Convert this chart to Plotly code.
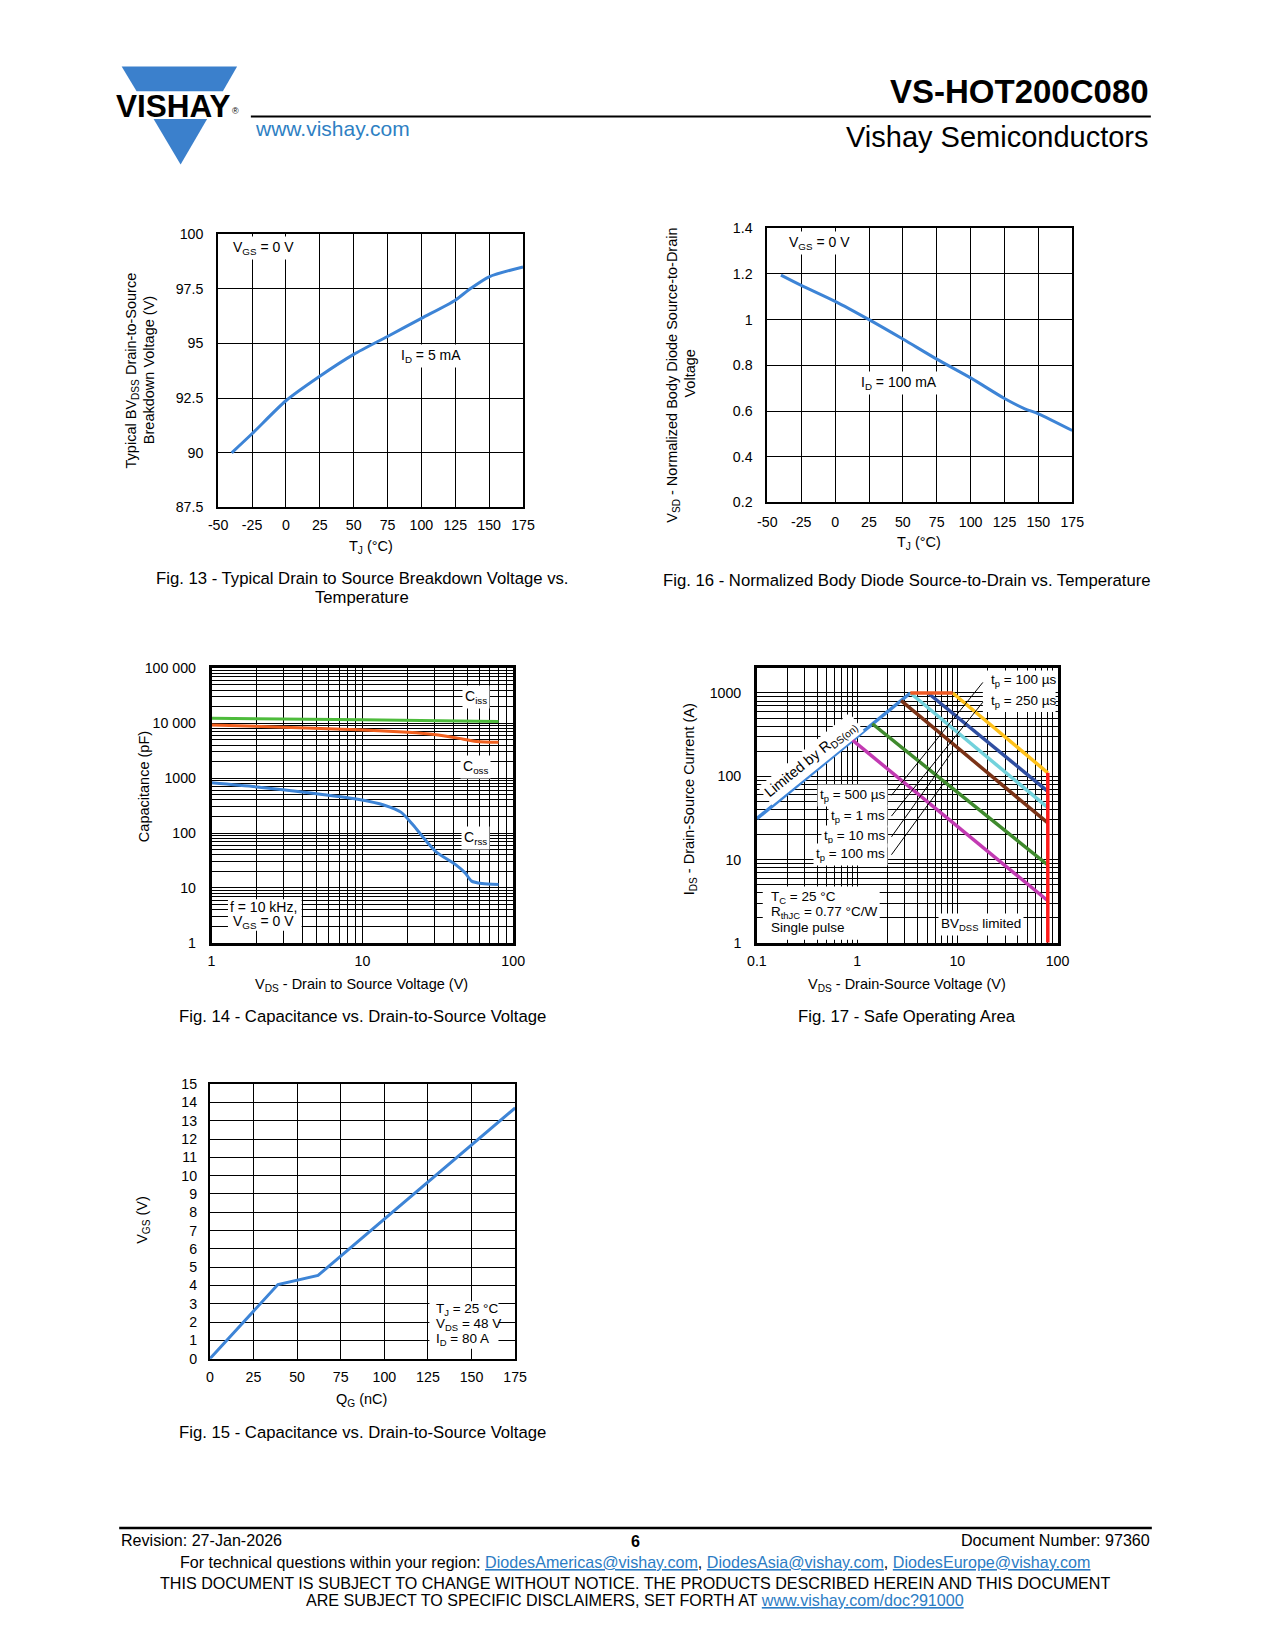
import plotly.graph_objects as go

W, H = 1275, 1650          # page size
OX, OY = 8, 8              # default page margin of the browser
FW, FH = W - 2 * OX, H - 2 * OY
FONT = "Liberation Sans, Arial, Helvetica, sans-serif"
BLUE = "#3d84d6"

# ---------------- Fig. 13 : breakdown voltage vs temperature ----------------
bv_temp = [-40, -25, 0, 25, 50, 75, 100, 125, 136, 150, 175]
bv_volt = [90.0, 90.87, 92.38, 93.5, 94.5, 95.32, 96.15, 96.98, 97.5, 98.05, 98.5]
temp_ticks = [-50, -25, 0, 25, 50, 75, 100, 125, 150, 175]
temp_ticktext = ["-50", "-25", "0", "25", "50", "75", "100", "125", "150", "175"]
bv_yticks = [87.5, 90, 92.5, 95, 97.5, 100]
bv_yticktext = ["87.5", "90", "92.5", "95", "97.5", "100"]

# ---------------- Fig. 16 : normalized body diode VSD vs temperature ----------------
vsd_temp = [-40, -25, 0, 25, 50, 75, 100, 125, 140, 150, 175]
vsd_norm = [1.195, 1.15, 1.08, 1.0, 0.915, 0.827, 0.745, 0.655, 0.61, 0.588, 0.515]
vsd_yticks = [0.2, 0.4, 0.6, 0.8, 1.0, 1.2, 1.4]
vsd_yticktext = ["0.2", "0.4", "0.6", "0.8", "1", "1.2", "1.4"]

# ---------------- Fig. 14 : capacitance vs VDS ----------------
ciss_vds = [1, 10, 80]
ciss_pf = [12300, 11500, 10700]
coss_vds = [1, 9.3, 20, 30, 42, 57, 80]
coss_pf = [9300, 7600, 6800, 6200, 5400, 4650, 4500]
crss_vds = [1, 2, 4.4, 9.3, 14, 18, 21.7, 25.6, 30.7, 41.5, 48, 53, 62, 80]
crss_pf = [820, 690, 540, 410, 320, 240, 140, 80, 46, 26.5, 18.8, 13.3, 12, 11.5]
cap_xticks = [1, 10, 100]
cap_yticks = [1, 10, 100, 1000, 10000, 100000]
cap_yticktext = ["1", "10", "100", "1000", "10 000", "100 000"]

# ---------------- Fig. 15 : gate charge ----------------
qg_nc = [0, 39, 62, 175]
vgs_v = [0, 4.05, 4.55, 13.7]
qg_xticks = [0, 25, 50, 75, 100, 125, 150, 175]
qg_yticks = list(range(0, 16))

# ---------------- Fig. 17 : safe operating area ----------------
rds_vds = [0.1, 3.4]
rds_ids = [31, 1000]
flat_vds = [3.4, 9.0]
flat_ids = [1000, 1000]
tp100us_vds = [9.0, 80]
tp100us_ids = [1000, 110]
tp250us_vds = [5.1, 80]
tp250us_ids = [1000, 66]
tp500us_vds = [3.4, 80]
tp500us_ids = [1000, 42]
tp1ms_vds = [2.75, 80]
tp1ms_ids = [810, 27.5]
tp10ms_vds = [1.42, 80]
tp10ms_ids = [427, 8.6]
tp100ms_vds = [0.90, 80]
tp100ms_ids = [272, 3.2]
bvdss_vds = [80, 80]
bvdss_ids = [1, 110]
soa_xticks = [0.1, 1, 10, 100]
soa_xticktext = ["0.1", "1", "10", "100"]
soa_yticks = [1, 10, 100, 1000]


def px(x):
    return (x - OX) / FW


def py(y):
    return 1 - (y - OY) / FH


def dx(a, b):
    return [px(a), px(b)]


def dy(top, bottom):
    return [py(bottom), py(top)]


fig = go.Figure()


def line(x, y, ax, color, width=3, spline=False):
    fig.add_trace(go.Scatter(
        x=x, y=y, xaxis=ax[0], yaxis=ax[1], mode="lines",
        line=dict(color=color, width=width, shape="spline" if spline else "linear", smoothing=0.7),
        showlegend=False, hoverinfo="skip"))


line(bv_temp, bv_volt, ("x", "y"), BLUE, 3, True)
line(vsd_temp, vsd_norm, ("x2", "y2"), BLUE, 3, True)
line(ciss_vds, ciss_pf, ("x3", "y3"), "#4dbb3b", 3, True)
line(coss_vds, coss_pf, ("x3", "y3"), "#f0601f", 3, True)
line(crss_vds, crss_pf, ("x3", "y3"), BLUE, 3, True)
line(qg_nc, vgs_v, ("x5", "y5"), BLUE, 3)

soa = ("x4", "y4")
line(rds_vds, rds_ids, soa, "#3f86d9", 3.5)
line(tp100ms_vds, tp100ms_ids, soa, "#c23ab2", 3.5)
line(tp10ms_vds, tp10ms_ids, soa, "#3f8a2d", 3.5)
line(tp1ms_vds, tp1ms_ids, soa, "#7a3216", 3.5)
line(tp500us_vds, tp500us_ids, soa, "#72d2dc", 3.5)
line(tp250us_vds, tp250us_ids, soa, "#2f4ea1", 3.5)
line(tp100us_vds, tp100us_ids, soa, "#ffc11a", 3.5)
line(flat_vds, flat_ids, soa, "#ee5a24", 3.5)
line(bvdss_vds, bvdss_ids, soa, "#ff1a1a", 3.5)

tickfont = dict(family=FONT, size=14.2, color="black")


def axis(lw=2, **kw):
    d = dict(showline=True, mirror=True, linecolor="black", linewidth=lw,
             showgrid=True, gridcolor="black", gridwidth=1, zeroline=False,
             ticks="", tickfont=tickfont, fixedrange=True, tickmode="array")
    d.update(kw)
    return d


def decade_minor(lo, hi):
    return [m * 10.0 ** k for k in range(lo, hi) for m in range(2, 10)]


def minor(lo, hi):
    return dict(tickmode="array", tickvals=decade_minor(lo, hi), showgrid=True,
                gridcolor="black", gridwidth=1, ticks="")


fig.update_layout(
    width=FW, height=FH, autosize=False,
    margin=dict(l=0, r=0, t=0, b=0),
    paper_bgcolor="white", plot_bgcolor="white",
    showlegend=False,
    xaxis=axis(domain=dx(211.7, 522), anchor="y", range=[-50, 175], tickvals=temp_ticks,
               ticktext=temp_ticktext, ticklabelstandoff=4),
    yaxis=axis(domain=dy(228.3, 504.3), anchor="x", range=[87.5, 100], tickvals=bv_yticks,
               ticktext=bv_yticktext, ticklabelstandoff=10),
    xaxis2=axis(domain=dx(770.7, 1081), anchor="y2", range=[-50, 175], tickvals=temp_ticks,
                ticktext=temp_ticktext, ticklabelstandoff=5),
    yaxis2=axis(domain=dy(222.3, 499.3), anchor="x2", range=[0.2, 1.4], tickvals=vsd_yticks,
                ticktext=vsd_yticktext, ticklabelstandoff=10),
    xaxis3=axis(lw=2.5, domain=dx(205, 512), anchor="y3", type="log", range=[0, 2],
                tickvals=cap_xticks, ticktext=["1", "10", "100"], ticklabelstandoff=3,
                minor=minor(0, 2)),
    yaxis3=axis(lw=2.5, domain=dy(666.7, 944), anchor="x3", type="log", range=[0, 5],
                tickvals=cap_yticks, ticktext=cap_yticktext, ticklabelstandoff=10,
                minor=minor(0, 5)),
    xaxis4=axis(lw=2.5, domain=dx(760, 1066), anchor="y4", type="log", range=[-1, 2],
                tickvals=soa_xticks, ticktext=soa_xticktext, ticklabelstandoff=3,
                minor=minor(-1, 2)),
    yaxis4=axis(lw=2.5, domain=dy(666.7, 944), anchor="x4", type="log", range=[0, 3.297],
                tickvals=soa_yticks, ticktext=["1", "10", "100", "1000"], ticklabelstandoff=10,
                minor=minor(0, 4)),
    xaxis5=axis(domain=dx(203.3, 514), anchor="y5", range=[0, 175], tickvals=qg_xticks,
                ticklabelstandoff=4),
    yaxis5=axis(domain=dy(1086.7, 1364), anchor="x5", range=[0, 15], tickvals=qg_yticks,
                ticklabelstandoff=8),
)

ann = []


def A(text, x, y, size=14, xa="center", ya="middle", angle=0, bg=None, color="black"):
    d = dict(text=text, x=px(x), y=py(y), xref="paper", yref="paper", showarrow=False,
             xanchor=xa, yanchor=ya, textangle=angle,
             font=dict(family=FONT, size=size, color=color))
    if bg:
        d.update(bgcolor=bg, borderpad=2)
    ann.append(d)


shapes = []


def R(x0, y0, x1, y1, fill="white"):
    shapes.append(dict(type="rect", xref="paper", yref="paper", x0=px(x0), x1=px(x1),
                       y0=py(y1), y1=py(y0), fillcolor=fill, line=dict(width=0), layer="above"))


def L(x0, y0, x1, y1, w=1, color="black"):
    shapes.append(dict(type="line", xref="paper", yref="paper", x0=px(x0), x1=px(x1),
                       y0=py(y0), y1=py(y1), line=dict(color=color, width=w), layer="above"))


def poly(pts, color):
    path = "M " + " L ".join("{},{}".format(px(a), py(b)) for a, b in pts) + " Z"
    shapes.append(dict(type="path", xref="paper", yref="paper", path=path,
                       fillcolor=color, line=dict(width=0)))


# ---------------- header ----------------
LOGO = "#3b80cc"
poly([(113.5, 59), (231, 59), (216.5, 84), (128.7, 84)], LOGO)
poly([(146, 112), (200.5, 112), (173.5, 158)], LOGO)
A("<b>VISHAY</b>", 166, 98.5, size=31.5)
A("®", 229, 104, size=9)
L(245, 109.5, 1161, 109.5, w=2)
A("<b>VS-HOT200C080</b>", 1161, 84, size=33, xa="right")
A("Vishay Semiconductors", 1161, 130, size=29, xa="right")
A("www.vishay.com", 247, 122, size=21, xa="left", color="#2e7fc3")

# ---------------- Fig. 13 annotations ----------------
A("V<sub>GS</sub> = 0 V", 224, 242, xa="left", bg="white")
A("I<sub>D</sub> = 5 mA", 395, 351, xa="left", bg="white")
A("Typical BV<sub>DSS</sub> Drain-to-Source", 125, 366, size=14.5, angle=-90)
A("Breakdown Voltage (V)", 142, 366, size=14.5, angle=-90)
A("T<sub>J</sub> (°C)", 367, 544, size=14.5)
A("Fig. 13 - Typical Drain to Source Breakdown Voltage vs.", 358.5, 576, size=16.7)
A("Temperature", 358.5, 595, size=16.7)

# ---------------- Fig. 16 annotations ----------------
A("V<sub>GS</sub> = 0 V", 790, 237.5, xa="left", bg="white")
A("I<sub>D</sub> = 100 mA", 863, 379, xa="left", bg="white")
A("V<sub>SD</sub> - Normalized Body Diode Source-to-Drain", 675, 371, size=14.5, angle=-90)
A("Voltage", 692, 369, size=14.5, angle=-90)
A("T<sub>J</sub> (°C)", 925, 540, size=14.5)
A("Fig. 16 - Normalized Body Diode Source-to-Drain vs. Temperature", 913, 578, size=16.7)

# ---------------- Fig. 14 annotations ----------------
A("C<sub>iss</sub>", 474, 696, bg="white")
A("C<sub>oss</sub>", 474, 766, bg="white")
A("C<sub>rss</sub>", 474, 838, bg="white")
R(221.7, 900, 296.7, 931.7)
A("f = 10 kHz,", 258, 908)
A("V<sub>GS</sub> = 0 V", 258, 923)
A("Capacitance (pF)", 137, 786, size=14.5, angle=-90)
A("V<sub>DS</sub> - Drain to Source Voltage (V)", 358, 987, size=14.5)
A("Fig. 14 - Capacitance vs. Drain-to-Source Voltage", 358.5, 1018, size=16.7)

# ---------------- Fig. 17 annotations ----------------
R(990, 669, 1064, 711)
A("t<sub>p</sub> = 100 µs", 996, 679, xa="left", size=13.5)
A("t<sub>p</sub> = 250 µs", 996, 700, xa="left", size=13.5)
A("t<sub>p</sub> = 500 µs", 893, 795, xa="right", size=13.5, bg="white")
A("t<sub>p</sub> = 1 ms", 893, 816, xa="right", size=13.5, bg="white")
A("t<sub>p</sub> = 10 ms", 893, 836.5, xa="right", size=13.5, bg="white")
A("t<sub>p</sub> = 100 ms", 893, 854.5, xa="right", size=13.5, bg="white")
L(897, 795, 990, 681)
L(897, 816, 990, 701)
L(897, 837, 958, 752)
L(897, 855, 950, 783)
A("Limited by R<sub>DS(on)</sub>", 815, 758, size=14.5, angle=-39, bg="white")
R(766, 887, 885, 941)
A("T<sub>C</sub> = 25 °C", 772.5, 898.6, xa="left", size=13.5)
A("R<sub>thJC</sub> = 0.77 °C/W", 772.5, 913.6, xa="left", size=13.5)
A("Single pulse", 772.5, 929, xa="left", size=13.5)
A("BV<sub>DSS</sub> limited", 988, 925, size=13.5, bg="white")
A("I<sub>DS</sub> - Drain-Source Current (A)", 692, 799, size=14.5, angle=-90)
A("V<sub>DS</sub> - Drain-Source Voltage (V)", 913, 987, size=14.5)
A("Fig. 17 - Safe Operating Area", 913, 1018, size=16.7)

# ---------------- Fig. 15 annotations ----------------
R(426.7, 1306, 497, 1354)
A("T<sub>J</sub> = 25 °C", 431, 1314, xa="left", size=13.5)
A("V<sub>DS</sub> = 48 V", 431, 1329.5, xa="left", size=13.5)
A("I<sub>D</sub> = 80 A", 431, 1345, xa="left", size=13.5)
A("V<sub>GS</sub> (V)", 135, 1224, size=14.5, angle=-90)
A("Q<sub>G</sub> (nC)", 358, 1406, size=14.5)
A("Fig. 15 - Capacitance vs. Drain-to-Source Voltage", 358.5, 1439, size=16.7)

# ---------------- footer ----------------
LINK = "#2b7cc4"
FS = 16.1
L(111, 1535, 1162, 1535, w=2.5)
A("Revision: 27-Jan-2026", 111, 1547, size=FS, xa="left")
A("<b>6</b>", 636, 1548, size=FS)
A("Document Number: 97360", 1162, 1547, size=FS, xa="right")


def link(t):
    return "<span style='color:{};text-decoration:underline'>{}</span>".format(LINK, t)


A("For technical questions within your region: " + link("DiodesAmericas@vishay.com") + ", "
  + link("DiodesAsia@vishay.com") + ", " + link("DiodesEurope@vishay.com"), 636, 1569, size=FS)
A("THIS DOCUMENT IS SUBJECT TO CHANGE WITHOUT NOTICE. THE PRODUCTS DESCRIBED HEREIN AND THIS DOCUMENT",
  636, 1591, size=FS)
A("ARE SUBJECT TO SPECIFIC DISCLAIMERS, SET FORTH AT " + link("www.vishay.com/doc?91000"),
  636, 1608, size=FS)

fig.update_layout(annotations=ann, shapes=shapes)
fig.write_html("out.html", config={"displayModeBar": False})
